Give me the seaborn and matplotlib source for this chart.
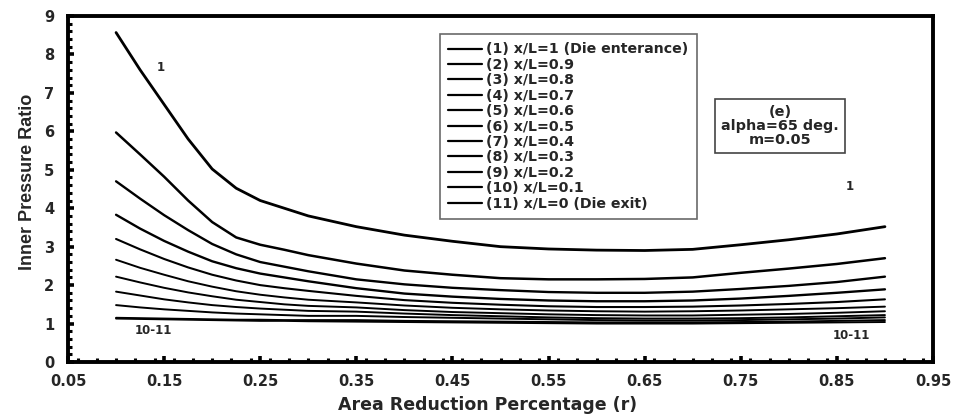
import matplotlib
matplotlib.use("Agg")
import matplotlib.pyplot as plt
import seaborn as sns
import pandas as pd
from matplotlib.ticker import MultipleLocator, FixedLocator

sns.set_theme(style="white")
plt.rcParams['font.family'] = ['DejaVu Sans']

r = [0.1, 0.125, 0.15, 0.175, 0.2, 0.225, 0.25, 0.275, 0.3, 0.35, 0.4, 0.45, 0.5,
     0.55, 0.6, 0.65, 0.7, 0.75, 0.8, 0.85, 0.9]

c1 = [8.57, 7.6, 6.7, 5.8, 5.02, 4.52, 4.2, 4.0, 3.8, 3.52, 3.3, 3.14, 3.0, 2.94, 2.91, 2.9, 2.93, 3.05, 3.18, 3.33, 3.52]
c2 = [5.97, 5.4, 4.82, 4.2, 3.64, 3.24, 3.05, 2.92, 2.78, 2.56, 2.38, 2.27, 2.18, 2.15, 2.15, 2.16, 2.2, 2.32, 2.43, 2.55, 2.7]
c3 = [4.70, 4.25, 3.82, 3.43, 3.07, 2.8, 2.6, 2.48, 2.36, 2.15, 2.02, 1.93, 1.87, 1.82, 1.8, 1.8, 1.83, 1.9, 1.98, 2.08, 2.22]
c4 = [3.83, 3.47, 3.15, 2.87, 2.62, 2.44, 2.3, 2.2, 2.1, 1.92, 1.78, 1.7, 1.64, 1.6, 1.58, 1.58, 1.6, 1.65, 1.72, 1.8, 1.89]
c5 = [3.2, 2.93, 2.68, 2.46, 2.27, 2.12, 2.0, 1.92, 1.85, 1.72, 1.61, 1.54, 1.49, 1.45, 1.43, 1.43, 1.44, 1.47, 1.51, 1.56, 1.63]
c6 = [2.66, 2.45, 2.27, 2.1, 1.96, 1.84, 1.75, 1.68, 1.62, 1.55, 1.47, 1.41, 1.37, 1.34, 1.32, 1.31, 1.32, 1.34, 1.37, 1.4, 1.44]
c7 = [2.22, 2.07, 1.93, 1.81, 1.71, 1.62, 1.56, 1.5, 1.46, 1.42, 1.35, 1.3, 1.27, 1.24, 1.22, 1.21, 1.21, 1.23, 1.25, 1.28, 1.32]
c8 = [1.83, 1.73, 1.63, 1.55, 1.48, 1.43, 1.39, 1.36, 1.33, 1.31, 1.26, 1.22, 1.19, 1.16, 1.14, 1.13, 1.13, 1.14, 1.16, 1.19, 1.22]
c9 = [1.48, 1.42, 1.37, 1.33, 1.29, 1.26, 1.24, 1.22, 1.2, 1.2, 1.17, 1.15, 1.13, 1.11, 1.09, 1.08, 1.08, 1.09, 1.11, 1.13, 1.16]
c10 = [1.15, 1.14, 1.13, 1.12, 1.11, 1.1, 1.1, 1.09, 1.09, 1.09, 1.07, 1.06, 1.05, 1.04, 1.03, 1.03, 1.03, 1.04, 1.05, 1.07, 1.09]
c11 = [1.13, 1.12, 1.11, 1.1, 1.09, 1.08, 1.07, 1.07, 1.06, 1.05, 1.04, 1.03, 1.02, 1.01, 1.0, 1.0, 1.0, 1.01, 1.02, 1.03, 1.04]

series = [c1, c2, c3, c4, c5, c6, c7, c8, c9, c10, c11]
labels = ["(1) x/L=1 (Die enterance)", "(2) x/L=0.9", "(3) x/L=0.8", "(4) x/L=0.7",
          "(5) x/L=0.6", "(6) x/L=0.5", "(7) x/L=0.4", "(8) x/L=0.3",
          "(9) x/L=0.2", "(10) x/L=0.1", "(11) x/L=0 (Die exit)"]
widths = [2.0, 1.8, 1.7, 1.7, 1.5, 1.4, 1.4, 1.4, 1.4, 1.4, 1.4]

xticks = [0.05, 0.15, 0.25, 0.35, 0.45, 0.55, 0.65, 0.75, 0.85, 0.95]
yticks = [0, 1, 2, 3, 4, 5, 6, 7, 8, 9]

fig = plt.figure(figsize=(9.59, 4.17), dpi=100)
ax = fig.add_axes([68/959, 1-362/417, (933-68)/959, (362-16)/417])

for vals, lab, lw in zip(series, labels, widths):
    df = pd.DataFrame({"r": r, "p": vals})
    sns.lineplot(data=df, x="r", y="p", color="black", linewidth=lw, label=lab, ax=ax)

ax.set_xlim(0.05, 0.95)
ax.set_ylim(0, 9)
ax.xaxis.set_major_locator(FixedLocator(xticks))
ax.xaxis.set_minor_locator(MultipleLocator(0.02))
ax.yaxis.set_major_locator(FixedLocator(yticks))
ax.yaxis.set_minor_locator(MultipleLocator(0.2))
ax.set_xticklabels([f"{t:.2f}" for t in xticks])
ax.set_yticklabels([str(t) for t in yticks])
for lab in ax.get_xticklabels() + ax.get_yticklabels():
    lab.set_fontweight("bold")
    lab.set_fontsize(10.5)
ax.tick_params(which="major", direction="in", length=4, width=2.6, color="black")
ax.tick_params(axis="x", which="major", pad=9)
ax.tick_params(axis="y", which="major", pad=10)
ax.tick_params(which="minor", direction="in", length=3, width=2.2, color="black")
ax.tick_params(top=False, right=False, which="both")
ax.tick_params(axis="both", which="both", bottom=True, left=True)

for s in ax.spines.values():
    s.set_linewidth(2.8)
    s.set_color("black")

ax.set_xlabel("Area Reduction Percentage (r)", fontsize=12.5, fontweight="bold", labelpad=5, x=0.485)
ax.set_ylabel("Inner Pressure Ratio", fontsize=13, fontweight="bold", labelpad=6, y=0.52,
              family=["Liberation Sans", "DejaVu Sans"])

leg = ax.legend(loc="upper left", bbox_to_anchor=(0.4300, 0.948), frameon=True, fancybox=False,
                edgecolor="#444444", handlelength=2.35, handletextpad=0.3,
                labelspacing=0.1, borderpad=0.6, borderaxespad=0.0,
                prop={"weight": "bold", "size": 10.2})
leg.get_frame().set_linewidth(1.2)
for h in leg.get_lines():
    h.set_linewidth(1.6)

ax.text(0.823, 0.682, "(e)\nalpha=65 deg.\nm=0.05", transform=ax.transAxes, ha="center", va="center",
        fontsize=10.4, fontweight="bold", linespacing=0.98,
        bbox=dict(boxstyle="square,pad=0.4", facecolor="white", edgecolor="#444444", linewidth=1.2))

ax.text(0.146, 7.66, "1", fontsize=8.5, fontweight="bold", ha="center", va="center")
ax.text(0.863, 4.56, "1", fontsize=8.5, fontweight="bold", ha="center", va="center")
ax.text(0.139, 0.81, "10-11", fontsize=8.5, fontweight="bold", ha="center", va="center")
ax.text(0.865, 0.70, "10-11", fontsize=8.5, fontweight="bold", ha="center", va="center")

fig.savefig("out.png", dpi=100)
